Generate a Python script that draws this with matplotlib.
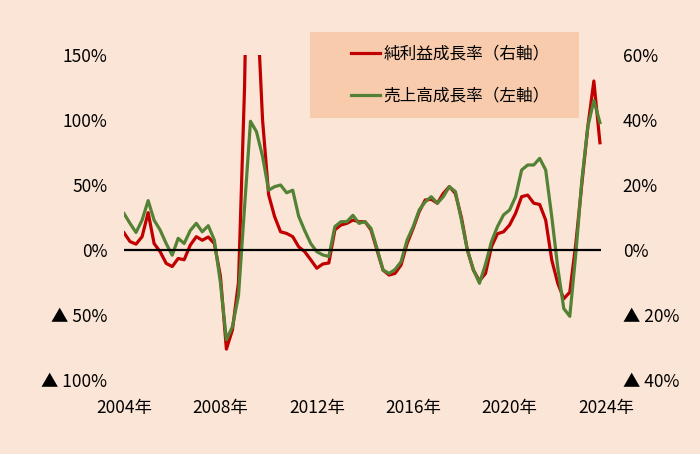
import matplotlib

matplotlib.use("Agg")
import matplotlib.pyplot as plt
from matplotlib.patches import Rectangle
import pandas as pd

plt.rcParams["font.family"] = ["Noto Sans CJK JP", "DejaVu Sans"]

BG = "#FBE5D6"
LEGEND_BG = "#F8CBAD"
RED = "#C00000"
GREEN = "#548235"

# quarterly, 2004Q1 .. 2023Q4
quarters = pd.date_range("2004-01-01", periods=80, freq="QS")

# 売上高成長率 (left axis, %)
sales_growth = [
    28, 20.5, 13.5, 23,
    38, 23, 15.4, 5,
    -4, 9, 5, 15,
    20.5, 14, 18.7, 7.7,
    -25, -69, -59, -35,
    33, 99, 91, 72,
    46, 48.7, 50, 44,
    46, 26, 15, 5,
    -1.3, -3.8, -5, 18,
    21.8, 21.8, 26.7, 20.5,
    21.8, 16.7, 1.3, -15.4,
    -18, -15, -9, 7.7,
    18, 30.8, 37, 41,
    36, 41, 48.7, 45,
    23, 0, -15, -25.6,
    -11, 6.4, 18, 27,
    30.8, 41, 61.5, 65.4,
    65.4, 70.5, 61.5, 25.6,
    -14, -45, -51, -2.6,
    54, 95, 115, 98,
]

# 純利益成長率 (right axis, %)
profit_growth = [
    5.3, 2.6, 1.8, 4.1,
    11.5, 2, -0.5, -4.1,
    -5.1, -2.6, -3, 1.5,
    4.1, 3, 4, 2,
    -8, -30.5, -24.6, -10,
    50, 150, 80, 40,
    17, 10.3, 5.6, 5.1,
    4.1, 1, -0.5, -3,
    -5.6, -4.3, -4, 6.2,
    7.7, 8.2, 9.2, 8.7,
    8.7, 6.2, 0, -6.2,
    -7.7, -7.2, -4.6, 2,
    6.7, 11.8, 15.4, 15.6,
    14.4, 17.4, 19.5, 17.4,
    10, 0, -6.2, -9.5,
    -7.2, 1, 5, 5.6,
    7.7, 11.3, 16.4, 16.9,
    14.4, 14, 9.2, -3.1,
    -10.3, -15, -13, 2,
    20.6, 38, 52, 33,
]

left_ticks = [-100, -50, 0, 50, 100, 150]
left_labels = ["▲ 100%", "▲ 50%", "0%", "50%", "100%", "150%"]
right_ticks = [-40, -20, 0, 20, 40, 60]
right_labels = ["▲ 40%", "▲ 20%", "0%", "20%", "40%", "60%"]
tick_years = [2004, 2008, 2012, 2016, 2020, 2024]

W, H = 700, 454
fig = plt.figure(figsize=(W / 100, H / 100), dpi=100, facecolor=BG)
ax = fig.add_axes([124 / W, 74 / H, 482 / W, 325 / H])
ax2 = ax.twinx()
ax.set_zorder(ax2.get_zorder() + 1)
ax.patch.set_visible(False)
ax2.patch.set_facecolor(BG)

red_line, = ax2.plot(quarters, profit_growth, color=RED, lw=2.3)
green_line, = ax.plot(quarters, sales_growth, color=GREEN, lw=2.3)
ax.hlines(0, quarters[0], quarters[-1] + pd.Timedelta(days=20), color="black", lw=1.6, zorder=3)

ax.set_xlim(pd.Timestamp("2004-01-01"), pd.Timestamp("2024-01-01"))
ax.set_xticks([pd.Timestamp(f"{y}-01-01") for y in tick_years])
ax.set_xticklabels([f"{y}年" for y in tick_years])
ax.set_ylim(-100, 150)
ax.set_yticks(left_ticks)
ax.set_yticklabels(left_labels)
ax2.set_ylim(-40, 60)
ax2.set_yticks(right_ticks)
ax2.set_yticklabels(right_labels)

ax2.grid(axis="x", color="#D9D9D9", lw=1)
for a in (ax, ax2):
    for s in a.spines.values():
        s.set_visible(False)
ax.tick_params(axis="y", length=0, pad=12, labelsize=12.5)
ax.tick_params(axis="x", length=0, pad=14, labelsize=12.5)
ax2.tick_params(axis="y", length=0, pad=12, labelsize=12.5)

fig.add_artist(Rectangle((310 / W, (H - 118) / H), 269 / W, 86 / H,
                         transform=fig.transFigure, facecolor=LEGEND_BG,
                         edgecolor="none", zorder=5))
leg = fig.legend([red_line, green_line], ["純利益成長率（右軸）", "売上高成長率（左軸）"],
                 loc="center", bbox_to_anchor=(450 / W, (H - 75) / H),
                 frameon=False, fontsize=12, handlelength=1.75, handletextpad=0.2,
                 labelspacing=1.5)
leg.set_zorder(6)

fig.savefig("out.png", dpi=100, facecolor=BG)
